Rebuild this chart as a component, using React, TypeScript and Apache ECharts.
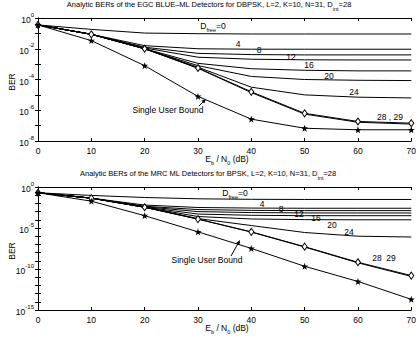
import React, { useEffect, useRef } from "react";
import * as echarts from "echarts";

// x values: Eb/N0 (dB)
const ebN0 = [0, 10, 20, 30, 40, 50, 60, 70];

// Top plot (EGC BLUE-ML, DBPSK) — log10(BER) per curve, labelled by D_free
const egcD0 = [-0.45, -0.74, -0.98, -1.02, -1.04, -1.04, -1.04, -1.04];
const egcD4 = [-0.45, -1.06, -1.8, -2.0, -2.03, -2.03, -2.03, -2.03];
const egcD8 = [-0.45, -1.06, -1.9, -2.3, -2.38, -2.4, -2.4, -2.4];
const egcD12 = [-0.45, -1.06, -1.95, -2.55, -2.68, -2.72, -2.73, -2.73];
const egcD16 = [-0.45, -1.06, -2.0, -2.95, -3.3, -3.4, -3.44, -3.44];
const egcD20 = [-0.45, -1.06, -2.0, -3.1, -3.8, -4.0, -4.05, -4.07];
const egcD24 = [-0.45, -1.06, -2.0, -3.2, -4.5, -5.0, -5.15, -5.2];
const egcD28 = [-0.45, -1.06, -2.0, -3.25, -4.8, -6.2, -6.73, -6.84];
const egcD29 = [-0.45, -1.06, -2.0, -3.27, -4.85, -6.25, -6.78, -6.9];
const egcSingleUser = [-0.45, -1.47, -3.1, -5.1, -6.58, -7.17, -7.27, -7.27];

// Bottom plot (MRC ML, BPSK) — log10(BER)
const mrcD0 = [-0.7, -1.03, -1.28, -1.44, -1.5, -1.52, -1.52, -1.52];
const mrcD4 = [-0.7, -1.36, -2.2, -2.5, -2.57, -2.59, -2.59, -2.59];
const mrcD8 = [-0.7, -1.36, -2.35, -2.75, -2.85, -2.88, -2.88, -2.88];
const mrcD12 = [-0.7, -1.36, -2.4, -3.0, -3.12, -3.16, -3.17, -3.17];
const mrcD16 = [-0.7, -1.36, -2.45, -3.3, -3.45, -3.5, -3.5, -3.5];
const mrcD20 = [-0.7, -1.36, -2.47, -3.6, -3.9, -3.98, -4.0, -4.0];
const mrcD24 = [-0.7, -1.36, -2.47, -3.85, -4.7, -5.55, -6.0, -6.1];
const mrcD28 = [-0.7, -1.36, -2.47, -3.91, -5.47, -7.28, -9.18, -10.8];
const mrcD29 = [-0.7, -1.36, -2.47, -3.92, -5.5, -7.32, -9.25, -10.9];
const mrcSingleUser = [-0.7, -1.73, -3.5, -5.47, -7.49, -9.67, -11.52, -13.7];

// Axis tick labels (exponents shown)
const topExpLabels = [0, -2, -4, -6, -8];
const bottomExpLabels = [0, -5, -10, -15];
const xTicks = [0, 10, 20, 30, 40, 50, 60, 70];

const FONT = "'Liberation Sans', Arial, Helvetica, sans-serif";
const STAR =
  "path://M0,-10 L2.35,-3.24 L9.51,-3.09 L3.8,1.24 L5.88,8.09 L0,4 L-5.88,8.09 L-3.8,1.24 L-9.51,-3.09 L-2.35,-3.24 Z";

const toPairs = (lg: number[]) => ebN0.map((x, i) => [x, Math.pow(10, lg[i])]);

const richText = {
  n: { fontSize: 7.5, fontFamily: FONT, color: "#000", lineHeight: 12, verticalAlign: "top" as const },
  sub: { fontSize: 5.5, fontFamily: FONT, color: "#000", lineHeight: 6, verticalAlign: "bottom" as const },
  m: { fontSize: 8.5, fontFamily: FONT, color: "#000", lineHeight: 12, verticalAlign: "top" as const },
};

const tickRich = {
  b: { fontSize: 8.5, fontFamily: FONT, color: "#000", lineHeight: 13, verticalAlign: "bottom" as const },
  s: { fontSize: 6, fontFamily: FONT, color: "#000", lineHeight: 7, verticalAlign: "top" as const },
};

function lineSeries(name: string, lg: number[], grid: number, marker?: "diamond" | "star") {
  return {
    name,
    type: "line",
    xAxisIndex: grid * 2,
    yAxisIndex: grid * 2,
    data: toPairs(lg),
    showSymbol: !!marker,
    symbol: marker === "diamond" ? "diamond" : marker === "star" ? STAR : "none",
    symbolSize: marker === "diamond" ? [5, 7] : 7,
    itemStyle:
      marker === "diamond"
        ? { color: "#fff", borderColor: "#000", borderWidth: 1 }
        : { color: "#000", borderColor: "#000", borderWidth: 0 },
    lineStyle: { color: "#000", width: 1 },
    silent: true,
    z: marker ? 3 : 2,
  };
}

function txt(x: number, y: number, text: string, align = "center") {
  return {
    type: "text",
    x,
    y,
    silent: true,
    style: {
      text,
      rich: richText,
      fill: "#000",
      font: `7.5px ${FONT}`,
      align,
      verticalAlign: "middle",
    },
  };
}

function arrow(x1: number, y1: number, x2: number, y2: number) {
  const dx = x2 - x1;
  const dy = y2 - y1;
  const len = Math.sqrt(dx * dx + dy * dy);
  const ux = dx / len;
  const uy = dy / len;
  const hl = 4.5;
  const hw = 2;
  const bx = x2 - ux * hl;
  const by = y2 - uy * hl;
  return [
    { type: "line", silent: true, shape: { x1, y1, x2: bx, y2: by }, style: { stroke: "#000", lineWidth: 1 } },
    {
      type: "polygon",
      silent: true,
      shape: {
        points: [
          [x2, y2],
          [bx - uy * hw, by + ux * hw],
          [bx + uy * hw, by - ux * hw],
        ],
      },
      style: { fill: "#000" },
    },
  ];
}

function xAxes(grid: number) {
  const base = {
    type: "value",
    gridIndex: grid,
    min: 0,
    max: 70,
    interval: 10,
    splitLine: { show: false },
    axisLine: { show: true, lineStyle: { color: "#000", width: 1 } },
    axisTick: { show: true, inside: true, length: 3, lineStyle: { color: "#000" } },
  };
  return [
    {
      ...base,
      position: "bottom",
      axisLabel: {
        show: true,
        color: "#000",
        fontSize: 8.5,
        fontFamily: FONT,
        margin: 5,
        formatter: (v: number) => (xTicks.includes(v) ? String(v) : ""),
      },
    },
    { ...base, position: "top", axisLabel: { show: false } },
  ];
}

function yAxes(grid: number, minExp: number, labels: number[]) {
  const base = {
    type: "log",
    logBase: 10,
    gridIndex: grid,
    min: Math.pow(10, minExp),
    max: 1,
    interval: 1,
    splitNumber: -minExp,
    splitLine: { show: false },
    axisLine: { show: true, lineStyle: { color: "#000", width: 1 } },
    axisTick: { show: true, inside: true, length: 3, lineStyle: { color: "#000" } },
  };
  return [
    {
      ...base,
      position: "left",
      axisLabel: {
        show: true,
        margin: 4,
        formatter: (v: number) => {
          const e = Math.round(Math.log10(v));
          if (!labels.includes(e)) return "";
          return `{b|10}{s|${e}}`;
        },
        rich: tickRich,
      },
    },
    { ...base, position: "right", axisLabel: { show: false } },
  ];
}

export default function App() {
  const ref = useRef<HTMLDivElement>(null);
  useEffect(() => {
    document.body.style.margin = "0";
    if (!ref.current) return;
    const chart = echarts.init(ref.current, undefined, { renderer: "svg" });

    const graphics: any[] = [
      txt(209, 6, "{n|Analytic BERs of the EGC BLUE–ML Detectors for DBPSK, L=2, K=10, N=31, D}{sub|int}{n|=28}"),
      txt(208, 175, "{n|Analytic BERs of the MRC ML Detectors for BPSK, L=2, K=10, N=31, D}{sub|int}{n|=28}"),
      txt(227, 160, "{m|E}{sub|b}{m| / N}{sub|0}{m| (dB)}"),
      txt(227, 329, "{m|E}{sub|b}{m| / N}{sub|0}{m| (dB)}"),
      {
        type: "text",
        x: 12,
        y: 82,
        rotation: Math.PI / 2,
        silent: true,
        style: { text: "BER", fill: "#000", font: `8.5px ${FONT}`, align: "center", verticalAlign: "middle" },
      },
      {
        type: "text",
        x: 12,
        y: 251,
        rotation: Math.PI / 2,
        silent: true,
        style: { text: "BER", fill: "#000", font: `8.5px ${FONT}`, align: "center", verticalAlign: "middle" },
      },
      // top curve labels
      txt(213, 27, "{m|D}{sub|free}{m|=0}"),
      txt(238, 45, "{m|4}"),
      txt(259, 51, "{m|8}"),
      txt(291, 58, "{m|12}"),
      txt(309, 66, "{m|16}"),
      txt(329, 77, "{m|20}"),
      txt(354, 93, "{m|24}"),
      txt(390, 118, "{m|28 , 29}"),
      txt(168, 111, "{m|Single User Bound}"),
      ...arrow(199, 106, 206, 99),
      // bottom curve labels
      txt(235, 194, "{m|D}{sub|free}{m|=0}"),
      txt(262, 205, "{m|4}"),
      txt(281, 210, "{m|8}"),
      txt(299, 215, "{m|12}"),
      txt(316, 219, "{m|16}"),
      txt(332, 226, "{m|20}"),
      txt(349, 233, "{m|24}"),
      txt(384, 259, "{m|28  29}"),
      txt(207, 261, "{m|Single User Bound}"),
      ...arrow(231, 256, 240, 240),
    ];

    chart.setOption({
      animation: false,
      backgroundColor: "#fff",
      grid: [
        { left: 38, top: 18, width: 378, height: 123 },
        { left: 38, top: 187, width: 378, height: 123 },
      ],
      xAxis: [...xAxes(0), ...xAxes(1)],
      yAxis: [...yAxes(0, -8, topExpLabels), ...yAxes(1, -15, bottomExpLabels)],
      series: [
        lineSeries("D0", egcD0, 0),
        lineSeries("D4", egcD4, 0),
        lineSeries("D8", egcD8, 0),
        lineSeries("D12", egcD12, 0),
        lineSeries("D16", egcD16, 0),
        lineSeries("D20", egcD20, 0),
        lineSeries("D24", egcD24, 0),
        lineSeries("D29", egcD29, 0),
        lineSeries("D28", egcD28, 0, "diamond"),
        lineSeries("Single User Bound", egcSingleUser, 0, "star"),
        lineSeries("D0 MRC", mrcD0, 1),
        lineSeries("D4 MRC", mrcD4, 1),
        lineSeries("D8 MRC", mrcD8, 1),
        lineSeries("D12 MRC", mrcD12, 1),
        lineSeries("D16 MRC", mrcD16, 1),
        lineSeries("D20 MRC", mrcD20, 1),
        lineSeries("D24 MRC", mrcD24, 1),
        lineSeries("D29 MRC", mrcD29, 1),
        lineSeries("D28 MRC", mrcD28, 1, "diamond"),
        lineSeries("Single User Bound MRC", mrcSingleUser, 1, "star"),
      ],
      graphic: graphics,
    });
    return () => chart.dispose();
  }, []);
  return (
    <div
      ref={ref}
      style={{ width: 419, height: 339, position: "absolute", left: 0, top: 0, background: "#fff" }}
    />
  );
}
